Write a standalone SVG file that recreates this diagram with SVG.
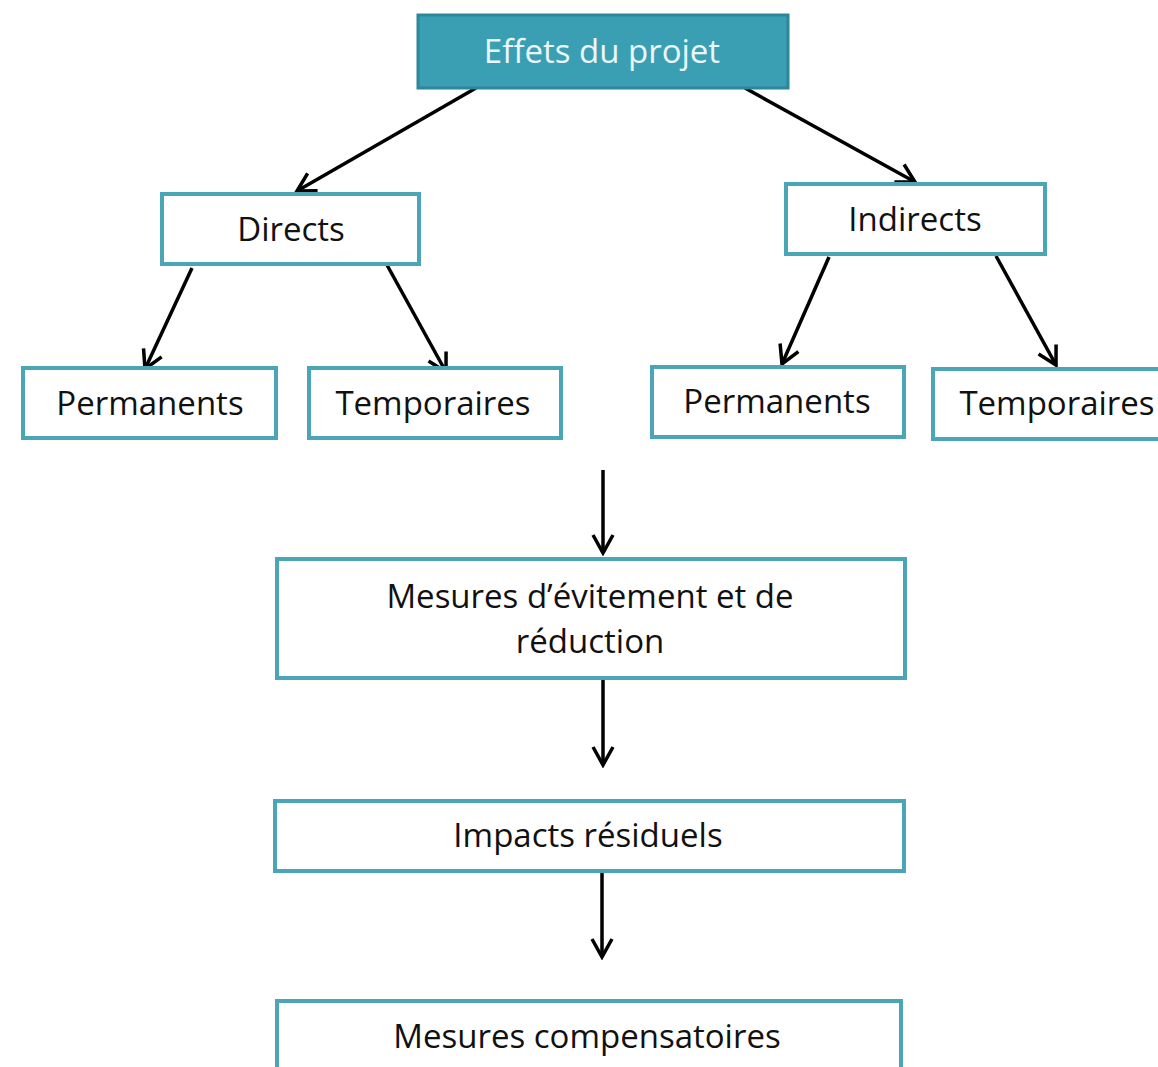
<svg xmlns="http://www.w3.org/2000/svg" width="1158" height="1067" viewBox="0 0 1158 1067">
<style>
.box{fill:#ffffff;stroke:#4aa6b6;stroke-width:4}
.top{fill:#3b9fb4;stroke:#2c8799;stroke-width:3}
.t{font-family:"Open Sans","Liberation Sans",sans-serif;font-size:33px;fill:#111;text-anchor:middle}
.tw{fill:#eaf6f8}
.c{stroke:#000;stroke-width:3.5;fill:none;marker-end:url(#ah)}
</style>
<defs>
<marker id="ah" viewBox="0 0 24 24" refX="21" refY="12" markerWidth="24" markerHeight="24" markerUnits="userSpaceOnUse" orient="auto">
<path d="M3,2 L21,12 L3,22" fill="none" stroke="#000" stroke-width="3.5" stroke-linejoin="miter"/>
</marker>
</defs>
<rect width="1158" height="1067" fill="#fff"/>
<g id="connectors">
<line class="c" x1="476" y1="88" x2="297" y2="191"/>
<line class="c" x1="745" y1="88" x2="915" y2="182"/>
<line class="c" x1="192" y1="268" x2="145" y2="369"/>
<line class="c" x1="387" y1="265" x2="446" y2="372"/>
<line class="c" x1="829" y1="257" x2="782" y2="364"/>
<line class="c" x1="996" y1="256" x2="1056" y2="365"/>
<line class="c" x1="603" y1="470" x2="603" y2="553"/>
<line class="c" x1="603" y1="680" x2="603" y2="765"/>
<line class="c" x1="602" y1="873" x2="602" y2="957"/>
</g>
<g id="n-effets"><rect class="top" x="418" y="15" width="370" height="73"/><text class="t tw" x="602" y="63">Effets du projet</text></g>
<g id="n-directs"><rect class="box" x="162" y="194" width="257" height="70"/><text class="t" x="291" y="241">Directs</text></g>
<g id="n-indirects"><rect class="box" x="786" y="184" width="259" height="70"/><text class="t" x="915" y="231">Indirects</text></g>
<g id="n-perm1"><rect class="box" x="23" y="368" width="253" height="70"/><text class="t" x="150" y="415">Permanents</text></g>
<g id="n-temp1"><rect class="box" x="309" y="368" width="252" height="70"/><text class="t" x="433" y="415">Temporaires</text></g>
<g id="n-perm2"><rect class="box" x="652" y="367" width="252" height="70"/><text class="t" x="777" y="413">Permanents</text></g>
<g id="n-temp2"><rect class="box" x="933" y="369" width="230" height="70"/><text class="t" x="1057" y="415">Temporaires</text></g>
<g id="n-mesures"><rect class="box" x="277" y="559" width="628" height="119"/><text class="t" x="590" y="608">Mesures d’évitement et de</text><text class="t" x="590" y="653">réduction</text></g>
<g id="n-impacts"><rect class="box" x="275" y="801" width="629" height="70"/><text class="t" x="588" y="847">Impacts résiduels</text></g>
<g id="n-compens"><rect class="box" x="277" y="1001" width="624" height="80"/><text class="t" x="587" y="1048">Mesures compensatoires</text></g>
</svg>
